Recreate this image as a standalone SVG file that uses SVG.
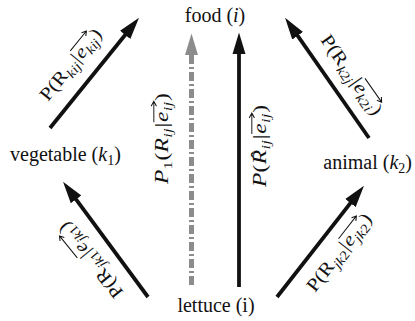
<svg xmlns="http://www.w3.org/2000/svg" width="415" height="321" viewBox="0 0 415 321">
<style>
.node{font-family:"Liberation Serif","Times New Roman",serif;font-size:20px;fill:#111}
.lbl{font-family:"Liberation Serif","Times New Roman",serif;font-size:17px;fill:#111}
.sub{font-size:12px;font-style:italic}
.subr{font-size:12px;font-style:normal}
.it{font-style:italic}
.edge{stroke:#111;stroke-width:3.8;fill:none;marker-end:url(#ah)}
.edge-dash{stroke:#8c8c8c;stroke-width:5;fill:none;stroke-dasharray:9 3 2 3;marker-end:url(#ahg)}
.vec{stroke:#111;stroke-width:0.9;fill:none}
</style>
<defs>
<marker id="ah" markerUnits="userSpaceOnUse" markerWidth="22" markerHeight="14" viewBox="0 0 20 12" refX="4" refY="6" orient="auto">
<path d="M0,0 L20,6 L0,12 z" fill="#111"/>
</marker>
<marker id="ahg" markerUnits="userSpaceOnUse" markerWidth="22" markerHeight="14" viewBox="0 0 20 12" refX="4" refY="6" orient="auto">
<path d="M0,0 L20,6 L0,12 z" fill="#8c8c8c"/>
</marker>
</defs>
<rect width="415" height="321" fill="#fff"/>
<g id="connectors">
<line class="edge" x1="50" y1="128" x2="127.95" y2="31.45"/>
<line class="edge" x1="369" y1="138" x2="295.15" y2="32.12"/>
<line class="edge" x1="148" y1="297" x2="73.49" y2="195.88"/>
<line class="edge" x1="277" y1="297" x2="353.14" y2="199.6"/>
<line class="edge" x1="239" y1="287" x2="239" y2="50"/>
<line class="edge-dash" x1="191.5" y1="285" x2="191.5" y2="51"/>
</g>
<g id="edge-labels">
<g id="lbl-kij" transform="translate(48,102) rotate(-51) scale(1.25,1.1)">
<text class="lbl" y="0"><tspan x="0">P(R</tspan><tspan class="sub" x="26.9" y="4">kij</tspan><tspan x="39.5" y="0">|</tspan><tspan class="it" x="43.5" y="0">e</tspan><tspan class="sub" x="51.2" y="4">kij</tspan><tspan x="63.8" y="0">)</tspan></text>
<path class="vec" d="M43,-13.5 H63.5 M60,-16 L63.5,-13.5 L60,-11"/>
</g>
<g id="lbl-k2j" transform="translate(320,40) rotate(55) scale(1.25,1.1)">
<text class="lbl" y="0"><tspan x="0">P(R</tspan><tspan class="sub" x="26.9" y="4">k<tspan class="subr">2</tspan>j</tspan><tspan x="42.2" y="0">|</tspan><tspan class="it" x="46.2" y="0">e</tspan><tspan class="sub" x="53.9" y="4">k<tspan class="subr">2</tspan>i</tspan><tspan x="69.2" y="0">)</tspan></text>
<path class="vec" d="M45.8,-13.5 H69 M65.5,-16 L69,-13.5 L65.5,-11"/>
</g>
<g id="lbl-jk1" transform="translate(124,292) rotate(-129) scale(1.22,1.1)">
<text class="lbl" y="0"><tspan x="0">P(R</tspan><tspan class="sub" x="26.9" y="4">jk<tspan class="subr">1</tspan></tspan><tspan x="42.2" y="0">|</tspan><tspan class="it" x="46.2" y="0">e</tspan><tspan class="sub" x="53.9" y="4">jk<tspan class="subr">1</tspan></tspan><tspan x="69.2" y="0">)</tspan></text>
<path class="vec" d="M45.8,-13.5 H69 M65.5,-16 L69,-13.5 L65.5,-11"/>
</g>
<g id="lbl-jk2" transform="translate(315,293) rotate(-52) scale(1.25,1.1)">
<text class="lbl" y="0"><tspan x="0">P(R</tspan><tspan class="sub" x="26.9" y="4">jk<tspan class="subr">2</tspan></tspan><tspan x="42.2" y="0">|</tspan><tspan class="it" x="46.2" y="0">e</tspan><tspan class="sub" x="53.9" y="4">jk<tspan class="subr">2</tspan></tspan><tspan x="69.2" y="0">)</tspan></text>
<path class="vec" d="M45.8,-13.5 H69 M65.5,-16 L69,-13.5 L65.5,-11"/>
</g>
<g id="lbl-p1" transform="translate(168,184) rotate(-90) scale(1.38,1.05)">
<text class="lbl" y="0"><tspan class="it" x="0">P</tspan><tspan class="subr" x="10.6" y="4">1</tspan><tspan x="17" y="0">(</tspan><tspan class="it" x="22.9" y="0">R</tspan><tspan class="sub" x="33.6" y="4">ij</tspan><tspan x="41" y="0">|</tspan><tspan class="it" x="45" y="0">e</tspan><tspan class="sub" x="52.8" y="4">ij</tspan><tspan x="60.2" y="0">)</tspan></text>
<path class="vec" d="M44.8,-13.5 H60 M56.5,-16 L60,-13.5 L56.5,-11"/>
</g>
<g id="lbl-pij" transform="translate(266,187) rotate(-90) scale(1.38,1.05)">
<text class="lbl" y="0"><tspan class="it" x="0">P</tspan><tspan x="10.6" y="0">(</tspan><tspan class="it" x="16.5" y="0">R</tspan><tspan class="sub" x="27.2" y="4">ij</tspan><tspan x="34.6" y="0">|</tspan><tspan class="it" x="38.6" y="0">e</tspan><tspan class="sub" x="46.4" y="4">ij</tspan><tspan x="53.8" y="0">)</tspan></text>
<text class="lbl" x="20.4" y="-2">ˆ</text>
<path class="vec" d="M38.4,-13.5 H53.6 M50.1,-16 L53.6,-13.5 L50.1,-11"/>
</g>
</g>
<g id="food"><text class="node" x="215" y="22" text-anchor="middle">food (<tspan class="it">i</tspan>)</text></g>
<g id="lettuce"><text class="node" x="216" y="312" text-anchor="middle">lettuce (i)</text></g>
<g id="vegetable"><text class="node" x="10" y="161">vegetable (<tspan class="it">k</tspan><tspan font-size="14" dy="4">1</tspan><tspan dy="-4">)</tspan></text></g>
<g id="animal"><text class="node" x="412" y="169" text-anchor="end">animal (<tspan class="it">k</tspan><tspan font-size="14" dy="4">2</tspan><tspan dy="-4">)</tspan></text></g>
</svg>
